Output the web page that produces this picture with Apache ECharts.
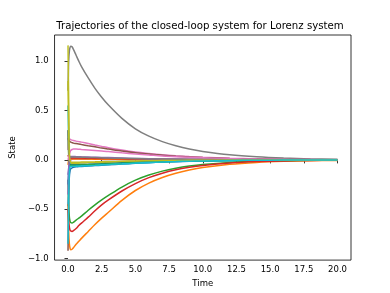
<!DOCTYPE html>
<html><head><meta charset="utf-8">
<script src="https://cdn.jsdelivr.net/npm/echarts@6/dist/echarts.min.js"></script>
<style>html,body{margin:0;padding:0;background:#fff}#c{width:390px;height:293px}</style>
</head><body><div id="c"></div>
<script>
const titleText = "Trajectories of the closed-loop system for Lorenz system";
const xName = "Time";
const yName = "State";
const xTicks = [0, 2.5, 5, 7.5, 10, 12.5, 15, 17.5, 20];
const yTicks = [-1, -0.5, 0, 0.5, 1];
const times = [0, 0.05, 0.1, 0.15, 0.2, 0.3, 0.4, 0.6, 0.8, 1, 1.5, 2, 2.5, 3, 4, 5, 6, 7, 8, 9, 10, 12, 14, 16, 18, 20];

const blueA   = [-0.47, -0.3, -0.17, -0.11, -0.09, -0.08, -0.075, -0.07, -0.068, -0.066, -0.062, -0.058, -0.054, -0.05, -0.042, -0.035, -0.028, -0.022, -0.018, -0.014, -0.011, -0.007, -0.004, -0.002, -0.001, 0];
const orangeA = [-0.45, -0.72, -0.85, -0.895, -0.91, -0.905, -0.89, -0.855, -0.825, -0.795, -0.725, -0.655, -0.59, -0.53, -0.41, -0.31, -0.235, -0.178, -0.135, -0.103, -0.078, -0.045, -0.026, -0.015, -0.008, -0.005];
const greenA  = [-0.2, -0.45, -0.58, -0.62, -0.635, -0.64, -0.632, -0.61, -0.59, -0.57, -0.51, -0.455, -0.405, -0.36, -0.275, -0.205, -0.153, -0.114, -0.085, -0.063, -0.047, -0.026, -0.014, -0.008, -0.004, -0.002];
const redA    = [-0.5, -0.62, -0.68, -0.71, -0.72, -0.725, -0.717, -0.695, -0.665, -0.64, -0.58, -0.515, -0.455, -0.405, -0.315, -0.24, -0.18, -0.135, -0.1, -0.075, -0.056, -0.031, -0.017, -0.01, -0.005, -0.003];
const purpleA = [-0.15, -0.08, -0.03, -0.01, 0, 0.005, 0.008, 0.008, 0.008, 0.007, 0.006, 0.006, 0.005, 0.004, 0.003, 0.002, 0.002, 0.001, 0.001, 0.001, 0, 0, 0, 0, 0, 0];
const brownA  = [-0.92, -0.4, -0.1, 0, 0.015, 0.018, 0.018, 0.017, 0.017, 0.016, 0.015, 0.014, 0.013, 0.012, 0.01, 0.008, 0.007, 0.005, 0.004, 0.003, 0.003, 0.002, 0.001, 0.001, 0, 0];
const pinkA   = [0.1, 0.2, 0.215, 0.21, 0.205, 0.2, 0.196, 0.19, 0.185, 0.18, 0.166, 0.151, 0.137, 0.123, 0.1, 0.08, 0.065, 0.052, 0.042, 0.034, 0.027, 0.017, 0.01, 0.006, 0.003, 0.002];
const grayA   = [0.7, 1.0, 1.1, 1.14, 1.15, 1.145, 1.12, 1.06, 1.0, 0.945, 0.83, 0.725, 0.635, 0.555, 0.42, 0.315, 0.24, 0.185, 0.143, 0.11, 0.086, 0.052, 0.031, 0.018, 0.01, 0.006];
const oliveA  = [1.16, 0.6, 0.1, -0.02, -0.035, -0.035, -0.035, -0.034, -0.033, -0.032, -0.03, -0.028, -0.026, -0.024, -0.02, -0.016, -0.013, -0.01, -0.008, -0.006, -0.005, -0.003, -0.002, -0.001, 0, 0];
const cyanA   = [0.55, 0.2, 0.0, -0.05, -0.06, -0.065, -0.065, -0.063, -0.062, -0.06, -0.057, -0.054, -0.05, -0.046, -0.039, -0.032, -0.026, -0.021, -0.017, -0.013, -0.01, -0.006, -0.004, -0.002, -0.001, 0];
const blueB   = [-0.25, -0.12, -0.06, -0.05, -0.05, -0.05, -0.05, -0.049, -0.048, -0.047, -0.045, -0.042, -0.039, -0.036, -0.03, -0.025, -0.02, -0.016, -0.013, -0.01, -0.008, -0.005, -0.003, -0.002, -0.001, 0];
const orangeB = [-0.05, 0.0, 0.01, 0.01, 0.01, 0.01, 0.01, 0.009, 0.009, 0.008, 0.008, 0.007, 0.007, 0.006, 0.005, 0.004, 0.003, 0.003, 0.002, 0.002, 0.001, 0.001, 0, 0, 0, 0];
const greenB  = [0.3, 0.05, -0.04, -0.05, -0.055, -0.055, -0.055, -0.054, -0.053, -0.052, -0.049, -0.046, -0.043, -0.04, -0.033, -0.027, -0.022, -0.017, -0.014, -0.011, -0.009, -0.005, -0.003, -0.002, -0.001, 0];
const redB    = [0.05, 0.03, 0.025, 0.022, 0.02, 0.02, 0.02, 0.019, 0.018, 0.018, 0.016, 0.015, 0.014, 0.013, 0.011, 0.009, 0.007, 0.006, 0.005, 0.004, 0.003, 0.002, 0.001, 0.001, 0, 0];
const purpleB = [-0.35, -0.1, 0.0, 0.03, 0.035, 0.035, 0.034, 0.033, 0.032, 0.031, 0.029, 0.027, 0.025, 0.023, 0.019, 0.015, 0.012, 0.01, 0.008, 0.006, 0.005, 0.003, 0.002, 0.001, 0, 0];
const brownB  = [0.22, 0.2, 0.19, 0.185, 0.18, 0.175, 0.17, 0.165, 0.16, 0.155, 0.143, 0.132, 0.12, 0.11, 0.09, 0.073, 0.059, 0.048, 0.038, 0.03, 0.024, 0.015, 0.009, 0.005, 0.003, 0.002];
const pinkB   = [0.0, 0.03, 0.06, 0.08, 0.095, 0.105, 0.11, 0.11, 0.108, 0.105, 0.1, 0.095, 0.09, 0.085, 0.072, 0.06, 0.05, 0.04, 0.033, 0.026, 0.021, 0.013, 0.008, 0.005, 0.003, 0.001];
const grayB   = [0.3, 0.1, 0.04, 0.03, 0.03, 0.03, 0.03, 0.029, 0.028, 0.027, 0.025, 0.023, 0.021, 0.019, 0.016, 0.013, 0.01, 0.008, 0.006, 0.005, 0.004, 0.002, 0.001, 0.001, 0, 0];
const oliveB  = [0.8, 0.3, 0.05, -0.01, -0.02, -0.025, -0.025, -0.024, -0.023, -0.022, -0.021, -0.02, -0.018, -0.017, -0.014, -0.011, -0.009, -0.007, -0.006, -0.004, -0.003, -0.002, -0.001, 0, 0, 0];
const cyanB   = [-0.85, -0.4, -0.12, -0.07, -0.065, -0.065, -0.064, -0.063, -0.062, -0.06, -0.057, -0.054, -0.05, -0.046, -0.039, -0.032, -0.026, -0.021, -0.017, -0.013, -0.01, -0.006, -0.004, -0.002, -0.001, 0];

const seriesList = [
  ['#1f77b4', blueA], ['#ff7f0e', orangeA], ['#2ca02c', greenA], ['#d62728', redA], ['#9467bd', purpleA],
  ['#8c564b', brownA], ['#e377c2', pinkA], ['#7f7f7f', grayA], ['#bcbd22', oliveA], ['#17becf', cyanA],
  ['#1f77b4', blueB], ['#ff7f0e', orangeB], ['#2ca02c', greenB], ['#d62728', redB], ['#9467bd', purpleB],
  ['#8c564b', brownB], ['#e377c2', pinkB], ['#7f7f7f', grayB], ['#bcbd22', oliveB], ['#17becf', cyanB]
];

const fmt = v => {
  const s = Math.abs(v).toFixed(1);
  return (v < -1e-9 ? '\u2212' : '') + s;
};
const font = 'DejaVu Sans';
const chart = echarts.init(document.getElementById('c'), null, {renderer: 'canvas'});
chart.setOption({
  animation: false,
  backgroundColor: '#fff',
  graphic: [{
    type: 'text', x: 200, y: 26,
    style: {text: titleText, fontFamily: font, fontSize: 10.2, fill: '#000', textAlign: 'center', textVerticalAlign: 'middle'}
  }],
  grid: {left: 49, right: 39, top: 35, bottom: 32, show: true, borderColor: '#000', borderWidth: 0.8, backgroundColor: 'transparent'},
  xAxis: {
    type: 'value', min: -1, max: 21,
    name: xName, nameLocation: 'middle', nameGap: 17,
    nameTextStyle: {fontFamily: font, fontSize: 8.5, color: '#000'},
    axisLine: {show: false},
    axisTick: {show: true, customValues: xTicks, length: 3.5, lineStyle: {color: '#000', width: 0.8}},
    axisLabel: {customValues: xTicks, formatter: fmt, fontFamily: font, fontSize: 8.5, color: '#000', margin: 5},
    splitLine: {show: false}
  },
  yAxis: {
    type: 'value', min: -1.015, max: 1.265,
    name: yName, nameLocation: 'middle', nameGap: 31, nameRotate: 90,
    nameTextStyle: {fontFamily: font, fontSize: 8.5, color: '#000'},
    axisLine: {show: false},
    axisTick: {show: true, customValues: yTicks, length: 3.5, lineStyle: {color: '#000', width: 0.8}},
    axisLabel: {customValues: yTicks, formatter: fmt, fontFamily: font, fontSize: 8.5, color: '#000', margin: 6},
    splitLine: {show: false}
  },
  series: seriesList.map(([color, vals]) => ({
    type: 'line', showSymbol: false, smooth: 0.3,
    lineStyle: {color: color, width: 1.5}, itemStyle: {color: color},
    data: times.map((t, i) => [t, vals[i]])
  }))
});
</script></body></html>
